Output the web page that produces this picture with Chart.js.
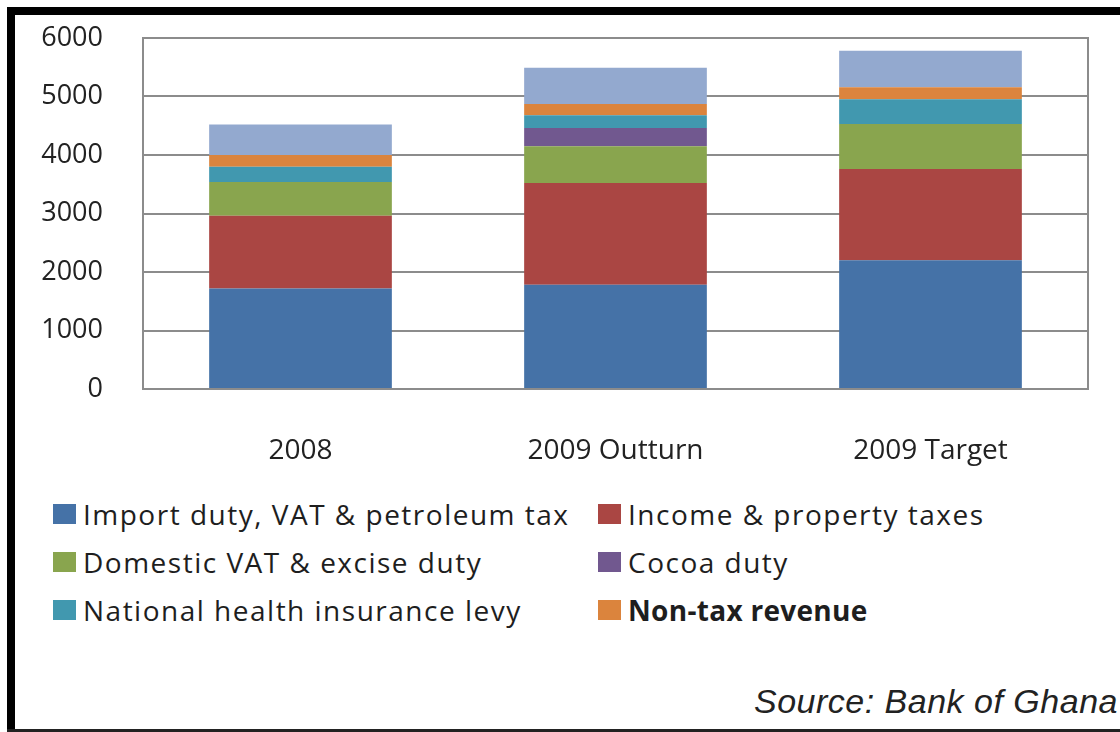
<!DOCTYPE html>
<html>
<head>
<meta charset="utf-8">
<script src="https://cdn.jsdelivr.net/npm/chart.js@4/dist/chart.umd.min.js"></script>
<style>
  html, body { margin: 0; padding: 0; background: #fff; }
  #frame {
    position: relative; width: 1120px; height: 732px; overflow: hidden; background: #fff;
  }
  #edgeTop { position: absolute; left: 7px; top: 7px; width: 1113px; height: 8px; background: #000; }
  #edgeLeft { position: absolute; left: 7px; top: 7px; width: 8px; height: 725px; background: #000; }
  #edgeBottom { position: absolute; left: 7px; top: 729px; width: 1113px; height: 3px; background: #222; }
  #chartBox { position: absolute; left: 0; top: 0; width: 1120px; height: 480px; }
  .leg {
    position: absolute; display: flex; align-items: center;
    font-family: "Open Sans", sans-serif; font-size: 28px; letter-spacing: 1.5px;
    color: #1e1e1e; white-space: nowrap;
  }
  .leg i { display: inline-block; width: 23px; height: 20px; margin-right: 7px; }
  #source {
    position: absolute; left: 754px; top: 682px; white-space: nowrap; letter-spacing: 0.5px;
    font-family: "Liberation Sans", Arial, sans-serif; font-style: italic; font-size: 34px; color: #222;
  }
</style>
</head>
<body>
<div id="frame">
  <div id="chartBox"><canvas id="revChart" width="1120" height="480"></canvas></div>
  <div id="legendBox"></div>
  <div id="source">Source: Bank of Ghana</div>
  <div id="edgeTop"></div>
  <div id="edgeLeft"></div>
  <div id="edgeBottom"></div>
</div>
<script>
// --- dữ liệu (GH¢ million) ---
const categories = ['2008', '2009 Outturn', '2009 Target'];
const yTicks = [0, 1000, 2000, 3000, 4000, 5000, 6000];

const importDuty   = [1720, 1780, 2200];
const incomeTax    = [1240, 1740, 1560];
const domesticVat  = [580, 630, 770];
const cocoaDuty    = [0, 310, 0];
const nhiLevy      = [260, 220, 425];
const nonTax       = [200, 190, 205];
const grants       = [520, 620, 620];   // không có trong chú thích (bị cắt)

const seriesNames = [
  'Import duty, VAT & petroleum tax',
  'Income & property taxes',
  'Domestic VAT & excise duty',
  'Cocoa duty',
  'National health insurance levy',
  'Non-tax revenue',
  'Grants'
];
const seriesColors = ['#4572A7', '#AA4643', '#89A54E', '#71588F', '#4198AF', '#DB843D', '#93A9CF'];
const seriesData = [importDuty, incomeTax, domesticVat, cocoaDuty, nhiLevy, nonTax, grants];

// --- legend HTML (2 cột x 3 hàng) ---
const legendBox = document.getElementById('legendBox');
const legPos = [
  [53, 514], [598, 514],
  [53, 562], [598, 562],
  [53, 610], [598, 610]
];
legPos.forEach((p, i) => {
  const d = document.createElement('div');
  d.className = 'leg';
  d.style.left = p[0] + 'px';
  d.style.top = (p[1] - 20) + 'px';
  d.style.height = '40px';
  if (i === 5) { d.style.fontWeight = 'bold'; d.style.letterSpacing = '0.3px'; }
  d.innerHTML = `<i style="background:${seriesColors[i]}"></i><span>${seriesNames[i]}</span>`;
  legendBox.appendChild(d);
});

// --- khung vùng vẽ ---
const plotFrame = {
  id: 'plotFrame',
  beforeDatasetsDraw(chart) {
    const a = chart.chartArea, c = chart.ctx;
    c.save();
    c.strokeStyle = '#8c8c8c';
    c.lineWidth = 2;
    c.strokeRect(a.left, a.top, a.right - a.left, a.bottom - a.top);
    c.restore();
  }
};

const gridColor = '#8c8c8c';
new Chart(document.getElementById('revChart'), {
  type: 'bar',
  data: {
    labels: categories,
    datasets: seriesData.map((arr, i) => ({
      label: seriesNames[i],
      data: arr,
      backgroundColor: seriesColors[i],
      borderWidth: 0,
      categoryPercentage: 1,
      barPercentage: 0.58
    }))
  },
  options: {
    responsive: false,
    animation: false,
    layout: { padding: { left: 0, right: 32, top: 38, bottom: 0 } },
    plugins: { legend: { display: false }, tooltip: { enabled: false } },
    scales: {
      x: {
        stacked: true,
        grid: { display: false, drawTicks: false },
        border: { display: true, color: gridColor, width: 2 },
        ticks: { color: '#222', padding: 45, font: { family: 'Open Sans', size: 28 } },
        afterFit(s) { s.height = 480 - 389; }
      },
      y: {
        stacked: true,
        min: 0, max: 6000,
        afterBuildTicks(s) { s.ticks = yTicks.map(v => ({ value: v })); },
        grid: { color: gridColor, lineWidth: 2, drawTicks: false },
        border: { display: true, color: gridColor, width: 2 },
        ticks: {
          color: '#222', padding: 40, font: { family: 'Open Sans', size: 27 },
          callback: v => String(v)
        },
        afterFit(s) { s.width = 143; s.paddingTop = 10; s.paddingBottom = 10; }
      }
    }
  },
  plugins: [plotFrame]
});
</script>
</body>
</html>
